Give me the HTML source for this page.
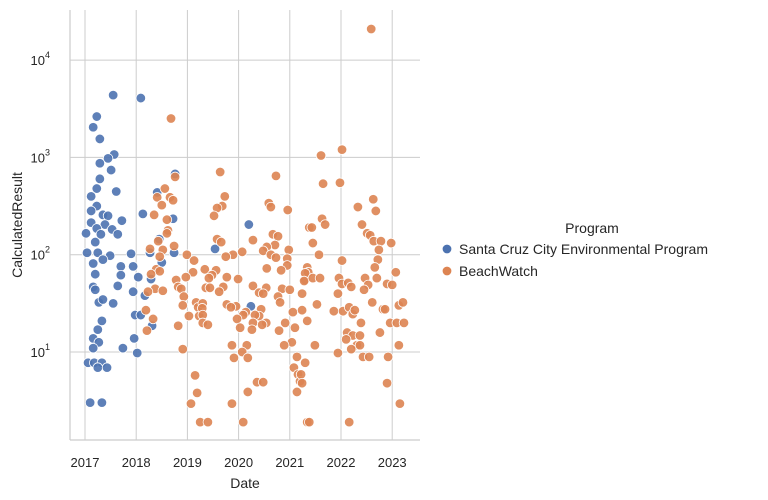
<!DOCTYPE html>
<html><head><meta charset="utf-8">
<style>
body{margin:0;background:#fff;width:768px;height:500px;overflow:hidden;font-family:"Liberation Sans",Arial,sans-serif}
svg{display:block}
text{font-family:"Liberation Sans",Arial,sans-serif;fill:#262626}
</style></head>
<body>
<svg id="chart" width="768" height="500">
<g id="grid"></g>
<g id="axes"></g>
<g id="points"></g>
<text x="245" y="488" font-size="14" text-anchor="middle">Date</text>
<text transform="translate(22,225) rotate(-90)" font-size="14" text-anchor="middle">CalculatedResult</text>
<g>
<text x="592" y="233" font-size="14" text-anchor="middle">Program</text>
<g><circle cx="447" cy="249" r="4.8" fill="#4c72b0" stroke="#fff" stroke-width="0.8"/><text x="459" y="254" font-size="14">Santa Cruz City Environmental Program</text></g>
<g><circle cx="447" cy="271" r="4.8" fill="#dd8452" stroke="#fff" stroke-width="0.8"/><text x="459" y="276" font-size="14">BeachWatch</text></g>
</g>
</svg>
<script>
const xTicks=[2017,2018,2019,2020,2021,2022,2023];
const yTickExp=[1,2,3,4];
const programs=["Santa Cruz City Environmental Program","BeachWatch"];
const blueDates=[2017.55,2018.09,2017.23,2017.16,2017.29,2017.57,2017.45,2017.29,2017.51,2017.29,2017.23,2017.61,2017.12,2017.23,2017.12,2017.35,2017.45,2017.72,2017.12,2017.39,2017.23,2017.53,2017.64,2017.02,2017.31,2017.20,2017.04,2017.25,2017.49,2017.90,2017.35,2017.16,2017.94,2017.70,2017.20,2017.70,2018.04,2018.29,2017.64,2017.16,2017.94,2018.17,2017.20,2017.27,2017.55,2017.35,2017.98,2018.09,2017.33,2017.25,2018.31,2017.16,2017.96,2017.27,2017.16,2017.74,2018.02,2017.06,2017.18,2017.33,2017.25,2017.43,2017.10,2017.33,2018.76,2018.41,2018.72,2018.13,2018.45,2018.27,2018.74,2018.50,2020.20,2019.54,2020.24];
const blueLog10=[3.64,3.61,3.42,3.31,3.19,3.03,2.99,2.94,2.87,2.78,2.68,2.65,2.60,2.50,2.45,2.41,2.40,2.35,2.33,2.31,2.27,2.26,2.21,2.22,2.21,2.13,2.02,2.02,1.99,2.01,1.95,1.91,1.88,1.88,1.80,1.79,1.77,1.75,1.68,1.67,1.62,1.58,1.64,1.51,1.50,1.54,1.38,1.38,1.32,1.23,1.27,1.14,1.14,1.10,1.04,1.04,0.99,0.89,0.89,0.89,0.84,0.84,0.48,0.48,2.83,2.64,2.37,2.42,2.16,2.02,2.02,1.92,2.31,2.06,1.47];
const orangeDates=[2018.68,2018.76,2018.56,2018.41,2018.66,2018.72,2018.50,2018.35,2018.60,2018.62,2018.60,2018.43,2018.27,2018.52,2018.46,2018.74,2018.99,2019.13,2019.11,2018.39,2018.46,2018.29,2018.97,2018.78,2018.82,2018.88,2018.37,2018.52,2018.23,2018.93,2018.91,2019.17,2019.21,2019.03,2019.23,2018.19,2018.33,2018.21,2018.82,2018.91,2019.15,2019.19,2019.07,
2019.64,2020.73,2019.73,2019.68,2019.58,2019.52,2020.59,2020.63,2020.96,2019.58,2019.66,2020.28,2020.67,2020.77,2020.71,2020.55,2020.48,2020.98,2020.63,2020.73,2020.95,2020.95,2020.83,2020.55,2020.07,2019.89,2019.75,2019.34,2019.56,2019.48,2019.42,2019.77,2019.99,2019.36,2019.44,2019.70,2019.62,2020.28,2020.54,2020.40,2020.48,2020.85,2021.00,2020.77,2020.81,2019.30,2019.29,2019.77,2019.95,2019.85,2020.44,2020.40,2020.32,2020.14,2020.09,2019.97,2020.28,2020.54,2020.46,2020.26,2020.03,2019.30,2019.30,2019.40,2020.91,2020.79,2021.10,2021.06,2021.04,2020.89,2019.87,2020.16,2020.07,2019.91,2020.18,2021.14,2021.30,2021.08,2021.16,2021.20,2021.14,2020.36,2020.48,2020.18,2019.87,2019.25,2019.40,2020.09,2021.34,2021.38,2021.34,2021.30,2021.36,
2022.59,2021.61,2022.02,2021.65,2021.98,2022.63,2022.68,2022.33,2021.63,2021.43,2021.69,2022.41,2022.51,2022.57,2022.64,2022.78,2022.98,2021.45,2022.74,2021.57,2022.72,2022.66,2022.02,2021.30,2021.28,2021.45,2021.59,2021.96,2022.02,2022.14,2022.20,2022.47,2022.53,2022.45,2022.70,2022.90,2023.00,2023.07,2021.94,2021.24,2021.24,2021.53,2021.86,2022.04,2022.16,2022.23,2022.27,2022.61,2022.82,2022.86,2023.13,2023.21,2021.34,2022.39,2022.96,2023.09,2023.23,2022.76,2022.12,2022.23,2022.37,2022.10,2022.31,2022.37,2022.20,2021.49,2023.13,2021.94,2022.43,2022.55,2022.92,2021.22,2021.24,2022.90,2023.15,2021.38,2022.16];
const orangeLog10=[3.40,2.80,2.68,2.59,2.59,2.56,2.51,2.41,2.36,2.25,2.22,2.14,2.06,2.05,1.98,2.09,2.00,1.94,1.82,1.85,1.83,1.80,1.77,1.74,1.67,1.65,1.65,1.63,1.62,1.57,1.48,1.51,1.46,1.37,1.37,1.43,1.34,1.22,1.27,1.03,0.76,0.58,0.47,
2.85,2.81,2.60,2.50,2.48,2.40,2.53,2.49,2.46,2.16,2.13,2.15,2.21,2.19,2.10,2.08,2.04,2.05,2.00,1.97,1.96,1.89,1.84,1.86,2.03,2.00,1.98,1.85,1.84,1.79,1.76,1.77,1.75,1.66,1.66,1.67,1.62,1.68,1.66,1.61,1.60,1.65,1.64,1.57,1.51,1.50,1.45,1.49,1.47,1.46,1.44,1.37,1.38,1.41,1.38,1.34,1.30,1.30,1.28,1.23,1.25,1.38,1.30,1.28,1.30,1.22,1.25,1.41,1.10,1.07,1.07,1.07,1.00,0.94,0.94,0.95,0.89,0.84,0.77,0.70,0.59,0.69,0.69,0.59,0.47,0.28,0.28,0.28,0.28,2.28,1.87,1.74,1.82,
4.32,3.02,3.08,2.73,2.74,2.57,2.45,2.49,2.37,2.28,2.31,2.31,2.22,2.20,2.14,2.14,2.12,2.12,2.05,2.00,1.95,1.87,1.94,1.81,1.73,1.76,1.76,1.76,1.70,1.71,1.67,1.76,1.69,1.64,1.76,1.70,1.69,1.82,1.60,1.60,1.43,1.49,1.42,1.42,1.46,1.39,1.43,1.51,1.44,1.44,1.48,1.51,1.32,1.30,1.30,1.30,1.30,1.20,1.20,1.17,1.17,1.13,1.07,1.07,1.03,1.07,1.07,0.99,0.95,0.95,0.95,0.77,0.68,0.68,0.47,0.28,0.28];

const NS="http://www.w3.org/2000/svg";
const L=70,R=420,T=10,B=440;
const X0=2016.707,X1=2023.543,Y0=0.096,Y1=4.515;
const xs=v=>L+(v-X0)/(X1-X0)*(R-L);
const ys=v=>B-(v-Y0)/(Y1-Y0)*(B-T);
function mk(tag,attrs,parent){const e=document.createElementNS(NS,tag);for(const k in attrs)e.setAttribute(k,attrs[k]);parent.appendChild(e);return e;}
const grid=document.getElementById('grid'),axes=document.getElementById('axes'),pts=document.getElementById('points');
xTicks.forEach(t=>{
  const x=xs(t);
  const g=mk('line',{x1:x,x2:x,y1:T,y2:B,stroke:'#cccccc','stroke-width':1},grid);
  
  
  const tx=mk('text',{x:x,y:467,'font-size':13,'text-anchor':'middle'},axes);
  tx.textContent=t;
  
  
});
yTickExp.forEach(t=>{
  const y=ys(t);
  const g=mk('line',{x1:L,x2:R,y1:y,y2:y,stroke:'#cccccc','stroke-width':1},grid);
  
  
  const tx=mk('text',{x:50,y:y+5,'font-size':13,'text-anchor':'end'},axes);
  tx.textContent='10';
  const sp=mk('tspan',{dy:-7,'font-size':9},tx);
  sp.textContent=String(t);
  
  
});
const sl=mk('line',{x1:L,x2:L,y1:T,y2:B,stroke:'#cccccc','stroke-width':1.2},axes);


const sb=mk('line',{x1:L,x2:R,y1:B,y2:B,stroke:'#cccccc','stroke-width':1.2},axes);


function drawSeries(dates,vals,color,name){
  dates.forEach((d,i)=>{
    const c=mk('circle',{cx:xs(d),cy:ys(vals[i]),r:4.8,fill:color,stroke:'#fff','stroke-width':0.8,'fill-opacity':0.9},pts);
    
    
  });
}
drawSeries(blueDates,blueLog10,'#4c72b0','point-santa-cruz');
drawSeries(orangeDates,orangeLog10,'#dd8452','point-beachwatch');
</script>
</body></html>
